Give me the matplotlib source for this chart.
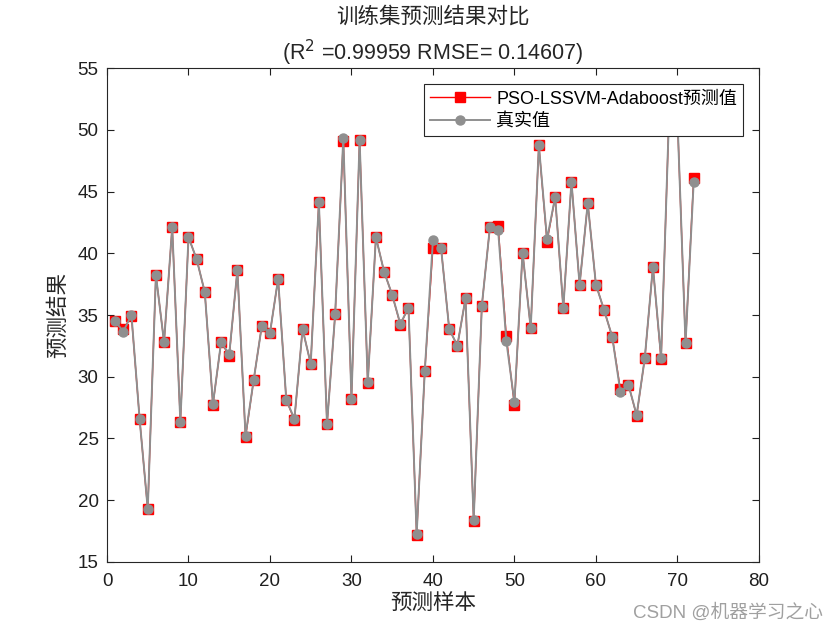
import matplotlib
matplotlib.use("Agg")
import matplotlib.pyplot as plt
import numpy as np

plt.rcParams['font.family'] = ['Liberation Sans', 'Noto Sans CJK SC', 'DejaVu Sans']

sample_idx = list(range(1, 73))
true_vals = [34.50, 33.66, 35.00, 26.58, 19.29, 38.23, 32.80, 42.12, 26.34, 41.30,
             39.52, 36.85, 27.80, 32.80, 31.82, 38.65, 25.23, 29.74, 34.14, 33.55,
             37.93, 28.12, 26.60, 33.87, 31.04, 44.14, 26.15, 35.07, 49.33, 28.20,
             49.19, 29.55, 41.30, 38.52, 36.63, 34.28, 35.60, 17.24, 30.47, 41.09,
             40.41, 33.85, 32.52, 36.36, 18.40, 35.74, 42.16, 41.90, 32.93, 27.93,
             40.06, 33.93, 48.73, 41.14, 44.55, 35.55, 45.81, 37.44, 44.06, 37.47,
             35.41, 33.25, 28.80, 29.34, 26.90, 31.50, 38.92, 31.55, 51.60, 51.10,
             32.71, 45.76]
pred_vals = [34.50, 33.85, 34.90, 26.58, 19.25, 38.23, 32.80, 42.12, 26.34, 41.30,
             39.52, 36.85, 27.75, 32.80, 31.70, 38.65, 25.10, 29.74, 34.14, 33.55,
             37.93, 28.12, 26.50, 33.87, 31.04, 44.14, 26.15, 35.07, 49.13, 28.20,
             49.19, 29.50, 41.30, 38.52, 36.63, 34.22, 35.60, 17.20, 30.47, 40.46,
             40.41, 33.85, 32.52, 36.36, 18.35, 35.74, 42.16, 42.20, 33.30, 27.70,
             40.06, 33.93, 48.73, 40.95, 44.55, 35.55, 45.81, 37.44, 44.06, 37.47,
             35.41, 33.25, 29.00, 29.34, 26.85, 31.50, 38.92, 31.40, 51.60, 51.10,
             32.71, 46.09]

title_line1 = '训练集预测结果对比'
title_line2 = '(R$^2$ =0.99959 RMSE= 0.14607)'
pred_label = 'PSO-LSSVM-Adaboost预测值'
true_label = '真实值'
xlabel = '预测样本'
ylabel = '预测结果'
watermark = 'CSDN @机器学习之心'

fig = plt.figure(figsize=(8.4, 6.3), dpi=100)
ax = fig.add_axes([0.1274, 0.108, 0.776, 0.784])

gray = (0.56, 0.56, 0.56)
ax.plot(sample_idx, pred_vals, color='red', lw=1.0, marker='s', markersize=6.5,
        markerfacecolor='red', markeredgecolor='red', label=pred_label, zorder=2)
ax.plot(sample_idx, true_vals, color=gray, lw=1.4, marker='o', markersize=6.5,
        markerfacecolor=gray, markeredgecolor=gray, label=true_label, zorder=3)

ax.set_xlim(0, 80)
ax.set_ylim(15, 55)
ax.set_xticks(np.arange(0, 81, 10))
ax.set_yticks(np.arange(15, 56, 5))
ax.tick_params(direction='in', top=True, right=True, length=5, width=0.8,
               labelsize=13.5, colors='#1f1f1f')
ax.tick_params(axis='x', pad=8)
ax.tick_params(axis='y', pad=6)
for s in ax.spines.values():
    s.set_linewidth(0.8)
    s.set_color('#262626')

ax.set_xlabel(xlabel, fontsize=15.5, color='#262626', labelpad=2)
ax.set_ylabel(ylabel, fontsize=15.5, color='#262626', labelpad=6)
ax.set_title(title_line1 + '\n' + title_line2, fontsize=15.5, color='#262626',
             linespacing=1.45, pad=6)

leg = ax.legend(loc='upper right', bbox_to_anchor=(0.976, 0.967), borderaxespad=0,
                fontsize=13, frameon=True, fancybox=False, edgecolor='#262626',
                framealpha=1, handlelength=3.3, borderpad=0.35, labelspacing=0.3,
                handletextpad=0.35)
leg.get_frame().set_linewidth(0.8)
leg.set_zorder(5)

fig.text(0.98, 0.013, watermark, ha='right', va='bottom', fontsize=13.5, color='#a0a0a0')

fig.savefig('out.png', dpi=100)
